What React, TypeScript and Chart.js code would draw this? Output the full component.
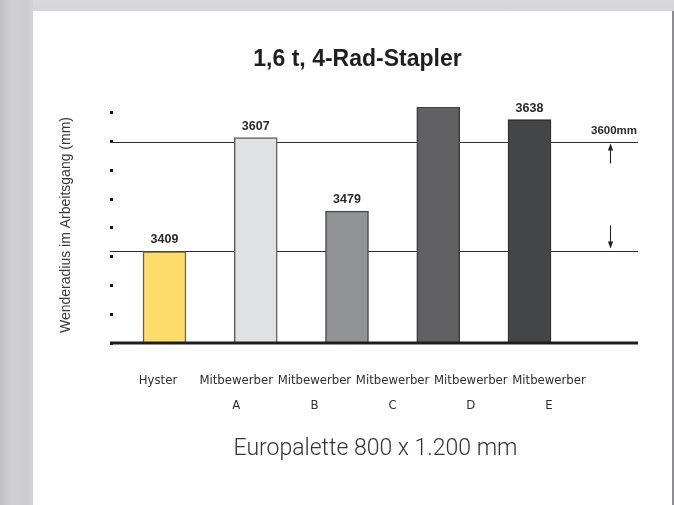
import React, { useEffect, useRef } from 'react';
import { Chart, registerables } from 'chart.js';

Chart.register(...registerables);

const chartTitle = '1,6 t, 4-Rad-Stapler';
const yAxisTitle = 'Wenderadius im Arbeitsgang (mm)';
const xAxisTitle = 'Europalette 800 x 1.200 mm';

const categories: string[][] = [
  ['Hyster'],
  ['Mitbewerber', 'A'],
  ['Mitbewerber', 'B'],
  ['Mitbewerber', 'C'],
  ['Mitbewerber', 'D'],
  ['Mitbewerber', 'E'],
];
const barValues = [3409, 3607, 3479, 3660, 3638];
const barValueLabels = ['3409', '3607', '3479', '', '3638'];
const barColors = ['#fddc6c', '#e0e1e3', '#929396', '#616163', '#444547'];
const barBorderColors = ['#6b6045', '#5e5e60', '#4a4a4c', '#3c3c3e', '#2e2e30'];
const referenceLines = [3600, 3409];
const referenceLabel = '3600mm';
const yMin = 3250;
const yMax = 3660;
const yStep = 50;

const overlayPlugin = {
  id: 'overlay',
  beforeDatasetsDraw(chart: any) {
    const { ctx, chartArea: a, scales } = chart;
    const y = scales.y;
    ctx.save();
    ctx.strokeStyle = '#2b2b2b';
    ctx.lineWidth = 1.2;
    referenceLines.forEach((v) => {
      const py = Math.round(y.getPixelForValue(v)) + 0.5;
      ctx.beginPath();
      ctx.moveTo(a.left - 3, py);
      ctx.lineTo(a.right, py);
      ctx.stroke();
    });
    ctx.restore();
  },
  afterDatasetsDraw(chart: any) {
    const { ctx, chartArea: a, scales } = chart;
    const y = scales.y;
    ctx.save();
    const by = y.getPixelForValue(yMin);
    ctx.strokeStyle = '#1e1e1e';
    ctx.lineWidth = 3;
    ctx.beginPath();
    ctx.moveTo(a.left - 3, by);
    ctx.lineTo(a.right, by);
    ctx.stroke();

    const meta = chart.getDatasetMeta(0);
    ctx.fillStyle = '#2a2a2a';
    ctx.font = 'bold 12.5px "Liberation Sans", Arial, sans-serif';
    ctx.textAlign = 'center';
    ctx.textBaseline = 'alphabetic';
    meta.data.forEach((bar: any, i: number) => {
      const t = barValueLabels[i];
      if (!t) return;
      ctx.fillText(t, bar.x, bar.y - 8);
    });

    const yTop = y.getPixelForValue(referenceLines[0]);
    const yBot = y.getPixelForValue(referenceLines[1]);
    ctx.font = 'bold 11.5px "Liberation Sans", Arial, sans-serif';
    ctx.fillText(referenceLabel, a.right - 24, yTop - 8);

    const ax = a.right - 27.5;
    ctx.strokeStyle = '#222';
    ctx.fillStyle = '#222';
    ctx.lineWidth = 1.1;
    ctx.beginPath();
    ctx.moveTo(ax, yTop + 22);
    ctx.lineTo(ax, yTop + 7);
    ctx.stroke();
    ctx.beginPath();
    ctx.moveTo(ax, yTop + 2);
    ctx.lineTo(ax - 2.6, yTop + 9);
    ctx.lineTo(ax + 2.6, yTop + 9);
    ctx.closePath();
    ctx.fill();
    ctx.beginPath();
    ctx.moveTo(ax, yBot - 26);
    ctx.lineTo(ax, yBot - 8);
    ctx.stroke();
    ctx.beginPath();
    ctx.moveTo(ax, yBot - 3);
    ctx.lineTo(ax - 2.6, yBot - 10);
    ctx.lineTo(ax + 2.6, yBot - 10);
    ctx.closePath();
    ctx.fill();
    ctx.restore();
  },
};

export default function App() {
  const canvasRef = useRef<HTMLCanvasElement | null>(null);

  useEffect(() => {
    if (!canvasRef.current) return;
    const chart = new Chart(canvasRef.current, {
      type: 'bar',
      data: {
        datasets: [
          {
            data: barValues.map((v, i) => ({ x: i, y: v })),
            backgroundColor: barColors,
            borderColor: barBorderColors,
            borderWidth: 1.5,
            borderSkipped: false,
            barThickness: 43,
            xAxisID: 'x',
            yAxisID: 'y',
          } as any,
        ],
      },
      options: {
        responsive: false,
        animation: false,
        devicePixelRatio: 1,
        layout: { padding: { left: 77, right: 36, top: 11, bottom: 42 } },
        plugins: {
          legend: { display: false },
          tooltip: { enabled: false },
          title: {
            display: true,
            text: chartTitle,
            color: '#1f1f1f',
            font: { family: '"Liberation Sans", Arial, sans-serif', size: 23, weight: 'bold', lineHeight: 1.2 },
            padding: { top: 35, bottom: 33.4 },
          },
        },
        scales: {
          x: {
            type: 'linear',
            display: false,
            offset: false,
            grid: { offset: false },
            min: -0.5644,
            max: 5.189,
          },
          x2: {
            type: 'linear',
            position: 'bottom',
            offset: false,
            min: -0.5754,
            max: 6.138,
            afterBuildTicks: (s: any) => {
              s.ticks = categories.map((_, i) => ({ value: i }));
            },
            afterFit: (s: any) => {
              s.height = 120;
            },
            grid: { display: false, offset: false },
            border: { display: false },
            ticks: {
              autoSkip: false,
              maxRotation: 0,
              padding: 17.5,
              color: '#2e2e2e',
              font: { family: '"Liberation Sans Narrow", "DejaVu Sans Condensed", Arial, sans-serif', size: 13, lineHeight: 25 / 13 },
              callback: (v: any) => categories[v] ?? '',
            },
            title: {
              display: true,
              text: xAxisTitle,
              color: '#333',
              font: { family: 'Roboto, "Liberation Sans", sans-serif', size: 23, weight: 300, lineHeight: 1.2 },
              padding: { top: 0, bottom: 0 },
            },
          } as any,
          y: {
            type: 'linear',
            min: yMin,
            max: yMax,
            afterFit: (s: any) => {
              s.width = 36;
            },
            ticks: { display: false, stepSize: yStep, includeBounds: false },
            grid: { drawOnChartArea: false, drawTicks: true, tickLength: 3, lineWidth: 3, color: '#111' },
            border: { display: false },
            title: {
              display: true,
              text: yAxisTitle,
              color: '#3a3a3a',
              font: { family: '"Liberation Sans", Arial, sans-serif', size: 14, lineHeight: 1.2 },
              padding: { top: -19, bottom: 0 },
            },
          },
        },
      } as any,
      plugins: [overlayPlugin],
    });
    return () => chart.destroy();
  }, []);

  return (
    <div
      style={{
        position: 'fixed',
        left: 0,
        top: 0,
        width: 674,
        height: 505,
        overflow: 'hidden',
        background: 'linear-gradient(180deg, #d9d9db 0px, #d6d6d8 11px)',
      }}
    >
      <div
        style={{
          position: 'absolute',
          left: 0,
          top: 0,
          width: 33,
          height: 505,
          background: 'linear-gradient(90deg, #c2c2c4 0px, #d0d0d2 14px, #cbcbcd 26px, #d3d3d5 33px)',
        }}
      />
      <div
        style={{
          position: 'absolute',
          left: 33,
          top: 11,
          width: 639,
          height: 494,
          background: '#ffffff',
          borderRight: '2px solid #8e8e90',
        }}
      />
      <canvas ref={canvasRef} width={674} height={505} style={{ position: 'absolute', left: 0, top: 0 }} />
    </div>
  );
}
